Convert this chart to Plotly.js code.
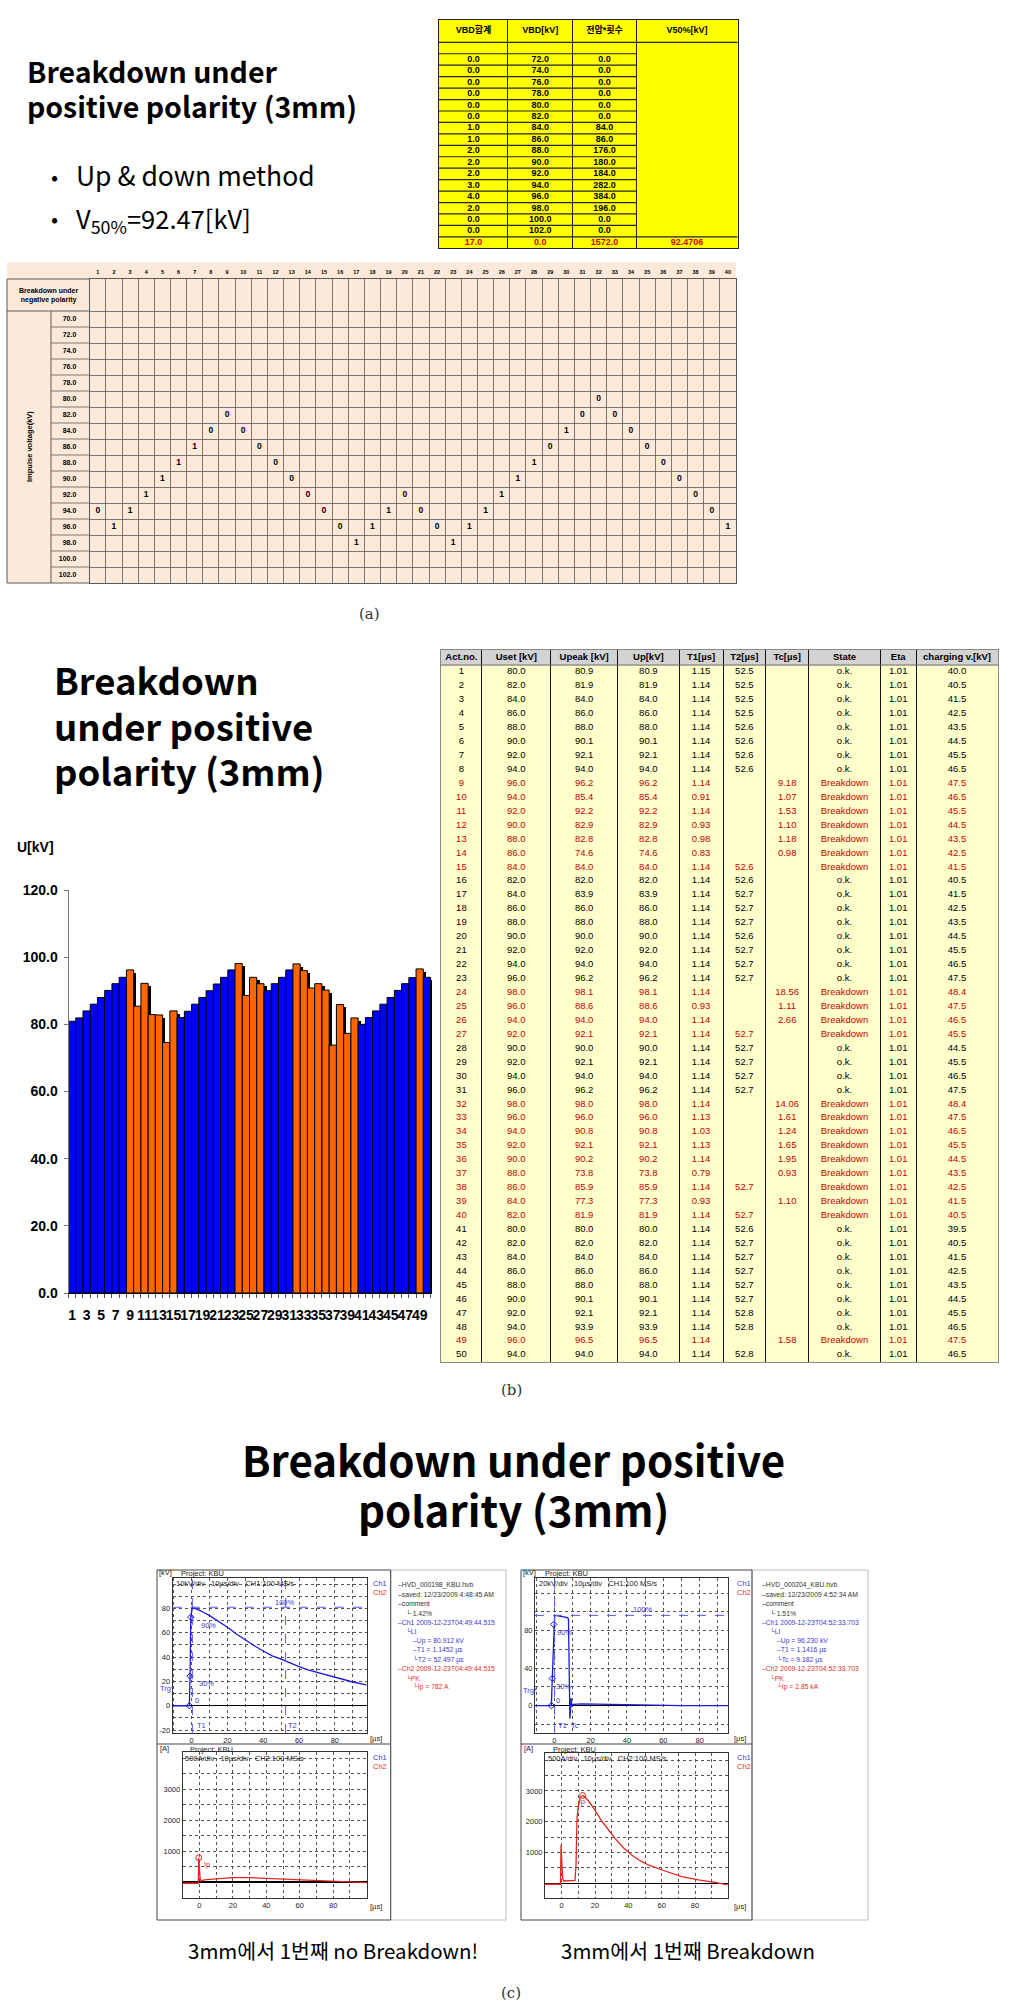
<!DOCTYPE html>
<html>
<head>
<meta charset="utf-8">
<script src="https://cdn.plot.ly/plotly-3.0.1.min.js"></script>
<style>
html,body{margin:0;padding:0;background:#ffffff;}
#fig{width:1021px;height:2013px;}
</style>
</head>
<body>
<div id="fig"></div>
<script>
// ======================= DATA =======================
// (a) up-and-down record: test no., applied voltage [kV], result (1 = breakdown)
const udTrial = [1,2,3,4,5,6,7,8,9,10,11,12,13,14,15,16,17,18,19,20,21,22,23,24,25,26,27,28,29,30,31,32,33,34,35,36,37,38,39,40];
const udVoltage = [94,96,94,92,90,88,86,84,82,84,86,88,90,92,94,96,98,96,94,92,94,96,98,96,94,92,90,88,86,84,82,80,82,84,86,88,90,92,94,96];
const udResult = ['0','1','1','1','1','1','1','0','0','0','0','0','0','0','0','0','1','1','1','0','0','0','1','1','1','1','1','1','0','1','0','0','0','0','0','0','0','0','0','1'];
const udLevels = [70,72,74,76,78,80,82,84,86,88,90,92,94,96,98,100,102];

// V50% summary table
const sumHeader = ['VBD합계','VBD[kV]','전압*횟수','V50%[kV]'];
const sumLevel = [72,74,76,78,80,82,84,86,88,90,92,94,96,98,100,102];
const sumCount = [0,0,0,0,0,0,1,1,2,2,2,3,4,2,0,0];
const sumProduct = [0,0,0,0,0,0,84,86,176,180,184,282,384,196,0,0];
const sumTotalCount = 17.0, sumTotalLevel = 0.0, sumTotalProduct = 1572.0;
const v50 = 92.4706;

// (b) test log
const actNo = [1,2,3,4,5,6,7,8,9,10,11,12,13,14,15,16,17,18,19,20,21,22,23,24,25,26,27,28,29,30,31,32,33,34,35,36,37,38,39,40,41,42,43,44,45,46,47,48,49,50];
const uset = [80,82,84,86,88,90,92,94,96,94,92,90,88,86,84,82,84,86,88,90,92,94,96,98,96,94,92,90,92,94,96,98,96,94,92,90,88,86,84,82,80,82,84,86,88,90,92,94,96,94];
const upeak = [80.9,81.9,84.0,86.0,88.0,90.1,92.1,94.0,96.2,85.4,92.2,82.9,82.8,74.6,84.0,82.0,83.9,86.0,88.0,90.0,92.0,94.0,96.2,98.1,88.6,94.0,92.1,90.0,92.1,94.0,96.2,98.0,96.0,90.8,92.1,90.2,73.8,85.9,77.3,81.9,80.0,82.0,84.0,86.0,88.0,90.1,92.1,93.9,96.5,94.0];
const upKV = [80.9,81.9,84.0,86.0,88.0,90.1,92.1,94.0,96.2,85.4,92.2,82.9,82.8,74.6,84.0,82.0,83.9,86.0,88.0,90.0,92.0,94.0,96.2,98.1,88.6,94.0,92.1,90.0,92.1,94.0,96.2,98.0,96.0,90.8,92.1,90.2,73.8,85.9,77.3,81.9,80.0,82.0,84.0,86.0,88.0,90.1,92.1,93.9,96.5,94.0];
const t1 = [1.15,1.14,1.14,1.14,1.14,1.14,1.14,1.14,1.14,0.91,1.14,0.93,0.98,0.83,1.14,1.14,1.14,1.14,1.14,1.14,1.14,1.14,1.14,1.14,0.93,1.14,1.14,1.14,1.14,1.14,1.14,1.14,1.13,1.03,1.13,1.14,0.79,1.14,0.93,1.14,1.14,1.14,1.14,1.14,1.14,1.14,1.14,1.14,1.14,1.14];
const t2 = [52.5,52.5,52.5,52.5,52.6,52.6,52.6,52.6,null,null,null,null,null,null,52.6,52.6,52.7,52.7,52.7,52.6,52.7,52.7,52.7,null,null,null,52.7,52.7,52.7,52.7,52.7,null,null,null,null,null,null,52.7,null,52.7,52.6,52.7,52.7,52.7,52.7,52.7,52.8,52.8,null,52.8];
const tc = [null,null,null,null,null,null,null,null,9.18,1.07,1.53,1.10,1.18,0.98,null,null,null,null,null,null,null,null,null,18.56,1.11,2.66,null,null,null,null,null,14.06,1.61,1.24,1.65,1.95,0.93,null,1.10,null,null,null,null,null,null,null,null,null,1.58,null];
const testState = ['o.k.','o.k.','o.k.','o.k.','o.k.','o.k.','o.k.','o.k.','Breakdown','Breakdown','Breakdown','Breakdown','Breakdown','Breakdown','Breakdown','o.k.','o.k.','o.k.','o.k.','o.k.','o.k.','o.k.','o.k.','Breakdown','Breakdown','Breakdown','Breakdown','o.k.','o.k.','o.k.','o.k.','Breakdown','Breakdown','Breakdown','Breakdown','Breakdown','Breakdown','Breakdown','Breakdown','Breakdown','o.k.','o.k.','o.k.','o.k.','o.k.','o.k.','o.k.','o.k.','Breakdown','o.k.'];
const eta = [1.01,1.01,1.01,1.01,1.01,1.01,1.01,1.01,1.01,1.01,1.01,1.01,1.01,1.01,1.01,1.01,1.01,1.01,1.01,1.01,1.01,1.01,1.01,1.01,1.01,1.01,1.01,1.01,1.01,1.01,1.01,1.01,1.01,1.01,1.01,1.01,1.01,1.01,1.01,1.01,1.01,1.01,1.01,1.01,1.01,1.01,1.01,1.01,1.01,1.01];
const chargingV = [40.0,40.5,41.5,42.5,43.5,44.5,45.5,46.5,47.5,46.5,45.5,44.5,43.5,42.5,41.5,40.5,41.5,42.5,43.5,44.5,45.5,46.5,47.5,48.4,47.5,46.5,45.5,44.5,45.5,46.5,47.5,48.4,47.5,46.5,45.5,44.5,43.5,42.5,41.5,40.5,39.5,40.5,41.5,42.5,43.5,44.5,45.5,46.5,47.5,46.5];
const logHeader = ['Act.no.','Uset [kV]','Upeak [kV]','Up[kV]','T1[\u00b5s]','T2[\u00b5s]','Tc[\u00b5s]','State','Eta','charging v.[kV]'];

// (c) oscilloscope records
const leftVt = [-10.6,-1.3,-0.9,-0.5,0.4,1.5,5,10,15,20,25,30,35,40,45,50,55,60,65,70,75,80,85,90,95,97.8];
const leftV  = [0,0,24.3,72.8,80.9,80.2,78,74,69.5,64.5,59,54,49.3,45,41,38.3,35,32.2,29.4,27.4,25.2,23.1,21.2,19.5,17.9,16.9];
const leftMarkT = [-0.5,-0.9,-1.3];
const leftMarkV = [72.8,24.3,0];
const leftIt = [-10,-0.7,-0.4,0.0,0.4,1,3,10,20,30,40,50,60,70,80,90,100];
const leftI  = [-43,-43,782,420,118,32,65,97,140,140,118,75,54,32,11,-11,-22];
const leftUp = 80.912, leftT2 = 52.497, leftPeakT = 0.4, leftIpT = -0.4, leftIp = 782;

const rightVt = [-10.6,-1.6,-1.1,-0.3,0.2,1.3,4,7.3,7.8,8.2,8.4,8.6,9.0,9.2,9.5,9.9,10.5,15,24,33,43,52,70,95.4];
const rightV  = [0,0,28.9,86.6,96.2,96,95,94,92.4,43,-6,-14,-3,7.8,3.6,-1,1.4,1.8,1.4,1,0.7,0.4,0.1,0];
const rightMarkT = [-0.3,-1.1,-1.6];
const rightMarkV = [86.6,28.9,0];
const rightIt = [-10,-0.7,-0.4,0.2,0.6,1.2,4,8,8.6,9.2,10,11,12.6,14,16,20,24,28,32,37,42,47,52,62,72,82,92,99.6];
const rightI  = [-30,-30,1243,595,162,76,76,97,595,2108,2500,2780,2850,2800,2680,2378,2022,1730,1460,1157,919,735,595,400,216,108,32,-54];
const rightUp = 96.230, rightPeakT = 0.2, rightIpT = 12.6, rightIp = 2850;

// ======================= HELPERS =======================
const W = 1021, H = 2013;
const px = x => x / W;
const py = y => 1 - y / H;
const dX = (a, b) => [px(a), px(b)];
const dY = (top, bottom) => [py(bottom), py(top)];
const FK = 'Noto Sans CJK KR, Noto Sans, sans-serif';
const FA = 'Liberation Sans, Arial, Noto Sans CJK KR, sans-serif';
const FN = 'Liberation Sans Narrow, Liberation Sans, Arial, Noto Sans CJK KR, sans-serif';
const FS = 'DejaVu Serif, serif';
const BLUE = '#1a1ad8', RED = '#e3261f', TBLUE = '#3a3acc', TRED = '#e0302a', TGRAY = '#333333';

function ann(text, x, y, font, extra) {
  return Object.assign({text: text, x: px(x), y: py(y), xref: 'paper', yref: 'paper',
    showarrow: false, xanchor: 'left', yanchor: 'middle', font: font, borderpad: 0}, extra || {});
}
function textTrace(xa, ya, xs, ys, texts, font) {
  return {type: 'scatter', mode: 'text', x: xs, y: ys, text: texts, textposition: 'middle center',
    textfont: font, xaxis: xa, yaxis: ya, hoverinfo: 'skip', showlegend: false, cliponaxis: false};
}
function pline(x0, y0, x1, y1, color, width, dash) {
  return {type: 'line', xref: 'paper', yref: 'paper', x0: px(x0), y0: py(y0), x1: px(x1), y1: py(y1),
    line: {color: color, width: width, dash: dash || 'solid'}};
}
function prect(x0, y0, x1, y1, fill, lineColor, lineWidth, layer) {
  return {type: 'rect', xref: 'paper', yref: 'paper', x0: px(x0), y0: py(y0), x1: px(x1), y1: py(y1),
    fillcolor: fill, line: {color: lineColor, width: lineWidth}, layer: layer || 'below'};
}

const traces = [];
const shapes = [];
const annotations = [];

// ======================= (a) up & down grid =======================
shapes.push(prect(7, 262, 736, 583, '#FDE9D9', 'rgba(0,0,0,0)', 0));
traces.push(textTrace('x2', 'y2', udTrial, udVoltage, udResult, {family: FN, size: 8.5, weight: 'bold', color: '#000'}));
const gridLine = '#5a5a5a';
shapes.push(pline(7, 279, 89.7, 279, gridLine, 1));
shapes.push(pline(7, 583, 89.7, 583, gridLine, 1));
shapes.push(pline(7, 279, 7, 583, gridLine, 1));
shapes.push({type: 'line', xref: 'paper', yref: 'y2', x0: px(7), x1: px(89.7), y0: udLevels[0] - 1, y1: udLevels[0] - 1, line: {color: gridLine, width: 1}});
shapes.push({type: 'line', xref: 'paper', yref: 'y2', x0: px(51), x1: px(51), y0: udLevels[0] - 1, y1: udLevels[udLevels.length - 1] + 1, line: {color: gridLine, width: 1}});
udLevels.slice(1).forEach(v => {
  shapes.push({type: 'line', xref: 'paper', yref: 'y2', x0: px(51), x1: px(89.7), y0: v - 1, y1: v - 1, line: {color: gridLine, width: 0.8}});
});
annotations.push(ann('<b>Breakdown under<br>negative polarity</b>', 48.4, 295.5, {family: FN, size: 7, color: '#000'}, {xanchor: 'center'}));
annotations.push(ann('<b>Impulse voltage(kV)</b>', 29, 447, {family: FN, size: 7.5, color: '#000'}, {xanchor: 'center', textangle: -90}));

// ======================= V50 summary table =======================
const sumColW = [68.7, 64.6, 63.4, 101.0];
const sumEdges = [0]; sumColW.forEach((w, i) => sumEdges.push(sumEdges[i] + w));
const sumCenters = sumColW.map((w, i) => sumEdges[i] + w / 2);
const sumRowsY = sumLevel.map((_, i) => i + 1);
const sumTotalY = sumLevel.length + 1;
const sumHeaderY = -1.475;
shapes.push({type: 'rect', xref: 'x7', yref: 'y7', x0: 0, x1: sumEdges[4], y0: -2.45, y1: sumTotalY + 0.5, fillcolor: '#FFFF00', line: {width: 0}, layer: 'below'});
for (let k = 0; k <= sumLevel.length + 1; k++) {
  const yy = k - 0.5;
  const full = (k === 0 || k === sumLevel.length + 1);
  shapes.push({type: 'line', xref: 'x7', yref: 'y7', x0: 0, x1: full ? sumEdges[4] : sumEdges[3], y0: yy, y1: yy, line: {color: '#222', width: 1.2}});
}
const sf = {family: FA, size: 9, weight: 'bold', color: '#000'};
traces.push(textTrace('x7', 'y7', sumCenters, sumCenters.map(() => sumHeaderY), sumHeader, sf));
traces.push(textTrace('x7', 'y7', sumRowsY.map(() => sumCenters[0]), sumRowsY, sumCount.map(v => v.toFixed(1)), sf));
traces.push(textTrace('x7', 'y7', sumRowsY.map(() => sumCenters[1]), sumRowsY, sumLevel.map(v => v.toFixed(1)), sf));
traces.push(textTrace('x7', 'y7', sumRowsY.map(() => sumCenters[2]), sumRowsY, sumProduct.map(v => v.toFixed(1)), sf));
traces.push(textTrace('x7', 'y7', sumCenters, sumCenters.map(() => sumTotalY),
  [sumTotalCount.toFixed(1), sumTotalLevel.toFixed(1), sumTotalProduct.toFixed(1), v50.toFixed(4)],
  {family: FA, size: 9, weight: 'bold', color: '#D00000'}));

// ======================= top-left text =======================
annotations.push(ann('<b>Breakdown under</b>', 26, 70, {family: FK, size: 28.5, color: '#000'}));
annotations.push(ann('<b>positive polarity (3mm)</b>', 26, 105, {family: FK, size: 28.5, color: '#000'}));
annotations.push(ann('\u2022', 50, 176, {family: FK, size: 21, color: '#000'}));
annotations.push(ann('Up &amp; down method', 75, 174.5, {family: FK, size: 26.5, color: '#000'}));
annotations.push(ann('\u2022', 50, 218, {family: FK, size: 21, color: '#000'}));
annotations.push(ann('V<sub>50%</sub>=' + v50.toFixed(2) + '[kV]', 75, 219, {family: FK, size: 25.5, color: '#000'}));
annotations.push(ann('(a)', 369, 614, {family: FS, size: 15, color: '#333'}, {xanchor: 'center'}));

// ======================= (b) bar chart =======================
const isBD = testState.map(s => s === 'Breakdown');
traces.push({type: 'bar', x: actNo, y: upKV, base: -0.8, width: 1, offset: -0.12,
  marker: {color: '#000000', line: {width: 0}}, xaxis: 'x', yaxis: 'y', hoverinfo: 'skip', showlegend: false});
traces.push({type: 'bar', x: actNo, y: upKV, width: 1, offset: -0.5,
  marker: {color: isBD.map(b => b ? '#FF6600' : '#0000FF'), line: {color: '#000000', width: 1}},
  xaxis: 'x', yaxis: 'y', hoverinfo: 'skip', showlegend: false});
const oddActs = actNo.filter(n => n % 2 === 1);
const barEdges = [0.5].concat(actNo.map(n => n + 0.5));
annotations.push(ann('<b>U[kV]</b>', 35, 847, {family: FA, size: 14, color: '#000'}, {xanchor: 'center'}));
annotations.push(ann('<b>Breakdown</b>', 53, 679, {family: FK, size: 36.5, color: '#000'}));
annotations.push(ann('<b>under positive</b>', 53, 725.5, {family: FK, size: 36.5, color: '#000'}));
annotations.push(ann('<b>polarity (3mm)</b>', 53, 770.5, {family: FK, size: 36.5, color: '#000'}));
annotations.push(ann('(b)', 511, 1390, {family: FS, size: 15, color: '#333'}, {xanchor: 'center'}));

// ======================= (b) log table =======================
const logColW = [40.8, 69, 66.7, 61.7, 43.8, 42.7, 43, 71.6, 35.8, 81.9];
const logEdges = [0]; logColW.forEach((w, i) => logEdges.push(logEdges[i] + w));
const logCenters = logColW.map((w, i) => logEdges[i] + w / 2);
const logW = logEdges[logEdges.length - 1];
shapes.push({type: 'rect', xref: 'x8', yref: 'y8', x0: 0, x1: logW, y0: -0.58, y1: 0.5, fillcolor: '#D3D3D3', line: {width: 0}, layer: 'below'});
shapes.push({type: 'rect', xref: 'x8', yref: 'y8', x0: 0, x1: logW, y0: 0.5, y1: 50.5, fillcolor: '#FFFFCC', line: {width: 0}, layer: 'below'});
shapes.push({type: 'line', xref: 'x8', yref: 'y8', x0: 0, x1: logW, y0: 0.5, y1: 0.5, line: {color: '#666', width: 1}});
const rowColor = isBD.map(b => b ? '#C80000' : '#000000');
const f2 = v => (v === null ? '' : v.toFixed(2));
const f1 = v => (v === null ? '' : v.toFixed(1));
const logCols = [actNo.map(String), uset.map(f1), upeak.map(f1), upKV.map(f1), t1.map(f2), t2.map(f1), tc.map(f2), testState, eta.map(f2), chargingV.map(f1)];
traces.push(textTrace('x8', 'y8', logCenters, logCenters.map(() => -0.04), logHeader, {family: FN, size: 9.5, weight: 'bold', color: '#000'}));
logCols.forEach((col, c) => {
  traces.push(textTrace('x8', 'y8', actNo.map(() => logCenters[c]), actNo, col, {family: FN, size: 9.5, color: rowColor}));
});

// ======================= (c) =======================
annotations.push(ann('<b>Breakdown under positive</b>', 513, 1458, {family: FK, size: 42, color: '#000'}, {xanchor: 'center'}));
annotations.push(ann('<b>polarity (3mm)</b>', 513, 1508, {family: FK, size: 42, color: '#000'}, {xanchor: 'center'}));
annotations.push(ann('3mm에서 1번째 no Breakdown!', 333, 1950, {family: FK, size: 20.5, color: '#000'}, {xanchor: 'center'}));
annotations.push(ann('3mm에서 1번째 Breakdown', 688, 1950, {family: FK, size: 20.5, color: '#000'}, {xanchor: 'center'}));
annotations.push(ann('(c)', 511, 1993, {family: FS, size: 15, color: '#333'}, {xanchor: 'center'}));

// scope traces
traces.push({type: 'scatter', mode: 'lines', x: leftVt, y: leftV, line: {color: BLUE, width: 1.3}, xaxis: 'x3', yaxis: 'y3', hoverinfo: 'skip', showlegend: false});
traces.push({type: 'scatter', mode: 'markers', x: leftMarkT, y: leftMarkV, marker: {symbol: 'diamond-open', size: 5, color: BLUE}, xaxis: 'x3', yaxis: 'y3', hoverinfo: 'skip', showlegend: false});
traces.push({type: 'scatter', mode: 'lines', x: leftIt, y: leftI, line: {color: RED, width: 1.3}, xaxis: 'x4', yaxis: 'y4', hoverinfo: 'skip', showlegend: false});
traces.push({type: 'scatter', mode: 'markers', x: [leftIpT], y: [leftIp], marker: {symbol: 'circle-open', size: 6, color: RED}, xaxis: 'x4', yaxis: 'y4', hoverinfo: 'skip', showlegend: false});
traces.push({type: 'scatter', mode: 'lines', x: rightVt, y: rightV, line: {color: BLUE, width: 1.3}, xaxis: 'x5', yaxis: 'y5', hoverinfo: 'skip', showlegend: false});
traces.push({type: 'scatter', mode: 'markers', x: rightMarkT, y: rightMarkV, marker: {symbol: 'diamond-open', size: 5, color: BLUE}, xaxis: 'x5', yaxis: 'y5', hoverinfo: 'skip', showlegend: false});
traces.push({type: 'scatter', mode: 'lines', x: rightIt, y: rightI, line: {color: RED, width: 1.3}, xaxis: 'x6', yaxis: 'y6', hoverinfo: 'skip', showlegend: false});
traces.push({type: 'scatter', mode: 'markers', x: [rightIpT], y: [rightIp], marker: {symbol: 'circle-open', size: 6, color: RED}, xaxis: 'x6', yaxis: 'y6', hoverinfo: 'skip', showlegend: false});

// scope dashed reference lines
const dashC = '#5a5af0';
function hdash(xa, ya, yv) { return {type: 'line', xref: xa + ' domain', yref: ya, x0: 0, x1: 1, y0: yv, y1: yv, line: {color: dashC, width: 1, dash: 'dash'}}; }
function vdash(xa, ya, xv) { return {type: 'line', xref: xa, yref: ya + ' domain', x0: xv, x1: xv, y0: 0, y1: 1, line: {color: dashC, width: 1, dash: 'dash'}}; }
shapes.push(hdash('x3', 'y3', leftUp), vdash('x3', 'y3', leftPeakT), vdash('x3', 'y3', leftT2));
shapes.push(hdash('x5', 'y5', rightUp), vdash('x5', 'y5', rightPeakT));

// scope frames
[[0, 157, 390.7, 506], [364, 521, 752, 868]].forEach(fr => {
  shapes.push(prect(fr[2], 1570, fr[3], 1920, 'rgba(0,0,0,0)', '#b4c2cc', 1, 'above'));
  shapes.push(prect(fr[1], 1570, fr[2], 1920, 'rgba(0,0,0,0)', '#444', 1, 'above'));
  shapes.push(pline(fr[1], 1744, fr[2], 1744, '#444', 1.2));
});

// scope texts
const scF = (c) => ({family: FA, size: 7.5, color: c || '#222'});
function scopeTexts(o, cfg) {
  annotations.push(ann('[kV]', 158 + o, 1572.5, scF()));
  annotations.push(ann('Project: KBU', 180 + o, 1573, scF()));
  annotations.push(ann(cfg.hdr, cfg.hdrX, 1583, scF()));
  annotations.push(ann('Ch1', 372 + o, 1583, scF(TBLUE)));
  annotations.push(ann('Ch2', 372 + o, 1592, scF(TRED)));
  annotations.push(ann('[\u00b5s]', 369 + o, 1738.5, scF()));
  annotations.push(ann('[A]', 159 + o, 1748.5, scF()));
  annotations.push(ann('Project: KBU', cfg.projB, 1749.5, scF()));
  annotations.push(ann('500A/div &nbsp; 10\u00b5s/div &nbsp; CH2:100 MS/s', cfg.hdrB, 1758, scF()));
  annotations.push(ann('Ch1', 372 + o, 1757, scF(TBLUE)));
  annotations.push(ann('Ch2', 372 + o, 1766, scF(TRED)));
  annotations.push(ann('[\u00b5s]', 369 + o, 1906, scF()));
  cfg.labels.forEach(l => annotations.push(ann(l[0], l[1], l[2], scF(TBLUE))));
  cfg.info.forEach((l, i) => annotations.push(ann(l[0], 397 + o + l[1] * 7.5, 1585 + i * 9.27, {family: FA, size: 6.8, color: l[2]})));
  annotations.push(ann('Ip', cfg.ip[0], cfg.ip[1], scF(TRED)));
}
scopeTexts(0, {
  hdr: '10kV/div &nbsp; 10\u00b5s/div &nbsp; CH1:100 MS/s', hdrX: 175, projB: 189, hdrB: 184,
  labels: [['100%', 274, 1602], ['90%', 200, 1625.5], ['30%', 198, 1683], ['0', 194, 1700], ['T1', 196, 1725.5], ['T2', 287, 1725.5], ['Trg*', 159, 1688.5]],
  ip: [203, 1864],
  info: [['\u2013HVD_000198_KBU.hvb', 0, TGRAY], ['\u2013saved: 12/23/2009 4:48:45 AM', 0, TGRAY], ['\u2013comment', 0, TGRAY], ['\u2514 1.42%', 1, TGRAY],
    ['\u2013Ch1 2009-12-23T04:49:44.515', 0, TBLUE], ['\u2514LI', 1, TBLUE], ['\u2013Up = 80.912 kV', 2, TBLUE], ['\u2013T1 = 1.1452 \u00b5s', 2, TBLUE], ['\u2514T2 = 52.497 \u00b5s', 2, TBLUE],
    ['\u2013Ch2 2009-12-23T04:49:44.515', 0, TRED], ['\u2514PK', 1, TRED], ['\u2514Ip = 782 A', 2, TRED]]
});
scopeTexts(364, {
  hdr: '20kV/div &nbsp; 10\u00b5s/div &nbsp; CH1:100 MS/s', hdrX: 538, projB: 552, hdrB: 547,
  labels: [['100%', 632, 1609], ['90%', 556, 1632], ['30%', 555, 1686], ['0', 555, 1700], ['T1 \u00a0Tc', 557, 1725.5], ['Trg*', 521.5, 1690]],
  ip: [578, 1801],
  info: [['\u2013HVD_000204_KBU.hvb', 0, TGRAY], ['\u2013saved: 12/23/2009 4:52:34 AM', 0, TGRAY], ['\u2013comment', 0, TGRAY], ['\u2514 1.51%', 1, TGRAY],
    ['\u2013Ch1 2009-12-23T04:52:33.703', 0, TBLUE], ['\u2514LI', 1, TBLUE], ['\u2013Up = 96.230 kV', 2, TBLUE], ['\u2013T1 = 1.1416 \u00b5s', 2, TBLUE], ['\u2514Tc = 9.182 \u00b5s', 2, TBLUE],
    ['\u2013Ch2 2009-12-23T04:52:33.703', 0, TRED], ['\u2514PK', 1, TRED], ['\u2514Ip = 2.85 kA', 2, TRED]]
});

// ======================= LAYOUT =======================
const scopeAxis = {showline: true, mirror: true, linecolor: '#333', linewidth: 1, showgrid: true, gridcolor: '#555',
  griddash: 'dot', gridwidth: 1, zeroline: false, ticks: '', tickfont: {family: FA, size: 7.5, color: '#222'},
  fixedrange: true, tickmode: 'array'};
const lab = (vals, shown) => vals.map(v => (shown.indexOf(v) >= 0 ? String(v) : ''));
const tX = [-10, 0, 10, 20, 30, 40, 50, 60, 70, 80, 90];
const tXl = lab(tX, [0, 20, 40, 60, 80]);
const vL = [-20, -10, 0, 10, 20, 30, 40, 50, 60, 70, 80, 90, 100];
const vR = [-20, 0, 20, 40, 60, 80, 100, 120];
const iA = [-500, 0, 500, 1000, 1500, 2000, 2500, 3000, 3500, 4000];
const hiddenTicks = {showticklabels: false, ticks: '', zeroline: false, fixedrange: true};

const layout = {
  width: W, height: H, margin: {l: 0, r: 0, t: 0, b: 0},
  paper_bgcolor: '#ffffff', plot_bgcolor: 'rgba(0,0,0,0)',
  showlegend: false, barmode: 'overlay', bargap: 0,
  font: {family: FA, color: '#000'},
  xaxis: {domain: dX(68.5, 432), anchor: 'y', range: [0.5, 50.7], tickmode: 'array', tickvals: oddActs,
    tickangle: 0, tickfont: {family: FA, size: 14, weight: 'bold', color: '#000'}, ticks: '', ticklabelstandoff: 9,
    showline: true, linecolor: '#000', linewidth: 1.2, showgrid: false, zeroline: false, fixedrange: true,
    minor: {tickmode: 'array', tickvals: barEdges, ticks: 'outside', ticklen: 4, tickcolor: '#555', showgrid: false}},
  yaxis: {domain: dY(890, 1293), anchor: 'x', range: [0, 120], tickmode: 'array', tickvals: [0, 20, 40, 60, 80, 100, 120],
    tickformat: '.1f', tickfont: {family: FA, size: 14, weight: 'bold', color: '#000'}, ticks: 'outside', ticklen: 4,
    tickcolor: '#777', showline: true, linecolor: '#777', showgrid: false, zeroline: false, fixedrange: true, ticklabelstandoff: 3},
  xaxis2: {domain: dX(89.7, 736), anchor: 'y2', range: [0.5, 40.5], side: 'top', tickmode: 'array', tickvals: udTrial,
    tickfont: {family: FN, size: 5.5, weight: 'bold', color: '#000'}, ticks: '', showgrid: false, zeroline: false,
    showline: true, mirror: true, linecolor: gridLine, linewidth: 1, fixedrange: true, ticklabelstandoff: 2,
    minor: {tickmode: 'array', tickvals: udTrial.slice(0, -1).map(n => n + 0.5), showgrid: true, gridcolor: gridLine, gridwidth: 0.8, ticks: ''}},
  yaxis2: {domain: dY(279, 583), anchor: 'x2', range: [udLevels[udLevels.length - 1] + 1, 65], tickmode: 'array',
    tickvals: udLevels, ticktext: udLevels.map(v => v.toFixed(1)), tickfont: {family: FN, size: 7, weight: 'bold', color: '#000'},
    ticks: '', ticklabelstandoff: 11, showgrid: false, zeroline: false, showline: true, mirror: true, linecolor: gridLine,
    linewidth: 1, fixedrange: true,
    minor: {tickmode: 'array', tickvals: udLevels.map(v => v - 1), showgrid: true, gridcolor: gridLine, gridwidth: 0.8, ticks: ''}},
  xaxis3: Object.assign({}, scopeAxis, {domain: dX(172.7, 366.7), anchor: 'y3', range: [-10.6, 97.8], tickvals: tX, ticktext: tXl}),
  yaxis3: Object.assign({}, scopeAxis, {domain: dY(1577.7, 1733), anchor: 'x3', range: [-22.4, 105.2], tickvals: vL,
    ticktext: lab(vL, [-20, 0, 20, 40, 60, 80]), zeroline: true, zerolinecolor: '#000', zerolinewidth: 1.2}),
  xaxis4: Object.assign({}, scopeAxis, {domain: dX(182.7, 366.7), anchor: 'y4', range: [-10, 100], tickvals: tX, ticktext: tXl}),
  yaxis4: Object.assign({}, scopeAxis, {domain: dY(1752.3, 1898), anchor: 'x4', range: [-520, 4194], tickvals: iA,
    ticktext: lab(iA, [1000, 2000, 3000]), zeroline: true, zerolinecolor: '#000', zerolinewidth: 1.2}),
  xaxis5: Object.assign({}, scopeAxis, {domain: dX(535, 727.7), anchor: 'y5', range: [-10.6, 95.4], tickvals: tX, ticktext: tXl}),
  yaxis5: Object.assign({}, scopeAxis, {domain: dY(1578.3, 1733.3), anchor: 'x5', range: [-29.5, 135.8], tickvals: vR,
    ticktext: lab(vR, [0, 40, 80]), zeroline: true, zerolinecolor: '#000', zerolinewidth: 1.2}),
  xaxis6: Object.assign({}, scopeAxis, {domain: dX(545, 727.7), anchor: 'y6', range: [-10, 99.6], tickvals: tX, ticktext: tXl}),
  yaxis6: Object.assign({}, scopeAxis, {domain: dY(1752.7, 1898), anchor: 'x6', range: [-477, 4240], tickvals: iA,
    ticktext: lab(iA, [1000, 2000, 3000]), zeroline: true, zerolinecolor: '#000', zerolinewidth: 1.2}),
  xaxis7: Object.assign({}, hiddenTicks, {domain: dX(439, 737.7), anchor: 'y7', range: [0, sumEdges[4]], tickmode: 'array',
    tickvals: sumEdges.slice(1, 4), showgrid: true, gridcolor: '#222', gridwidth: 1.1, showline: true, mirror: true, linecolor: '#222', linewidth: 1.1}),
  yaxis7: Object.assign({}, hiddenTicks, {domain: dY(20, 248.3), anchor: 'x7', range: [sumTotalY + 0.5, -2.45], showgrid: false,
    showline: true, mirror: true, linecolor: '#222', linewidth: 1.1}),
  xaxis8: Object.assign({}, hiddenTicks, {domain: dX(441, 998), anchor: 'y8', range: [0, logW], tickmode: 'array',
    tickvals: logEdges.slice(1, -1), showgrid: true, gridcolor: '#111', gridwidth: 1, showline: true, mirror: true, linecolor: '#888', linewidth: 1}),
  yaxis8: Object.assign({}, hiddenTicks, {domain: dY(650, 1362), anchor: 'x8', range: [50.5, -0.58], showgrid: false,
    showline: true, mirror: true, linecolor: '#888', linewidth: 1}),
  shapes: shapes,
  annotations: annotations
};

Plotly.newPlot('fig', traces, layout, {staticPlot: true, displayModeBar: false});
</script>
</body>
</html>
